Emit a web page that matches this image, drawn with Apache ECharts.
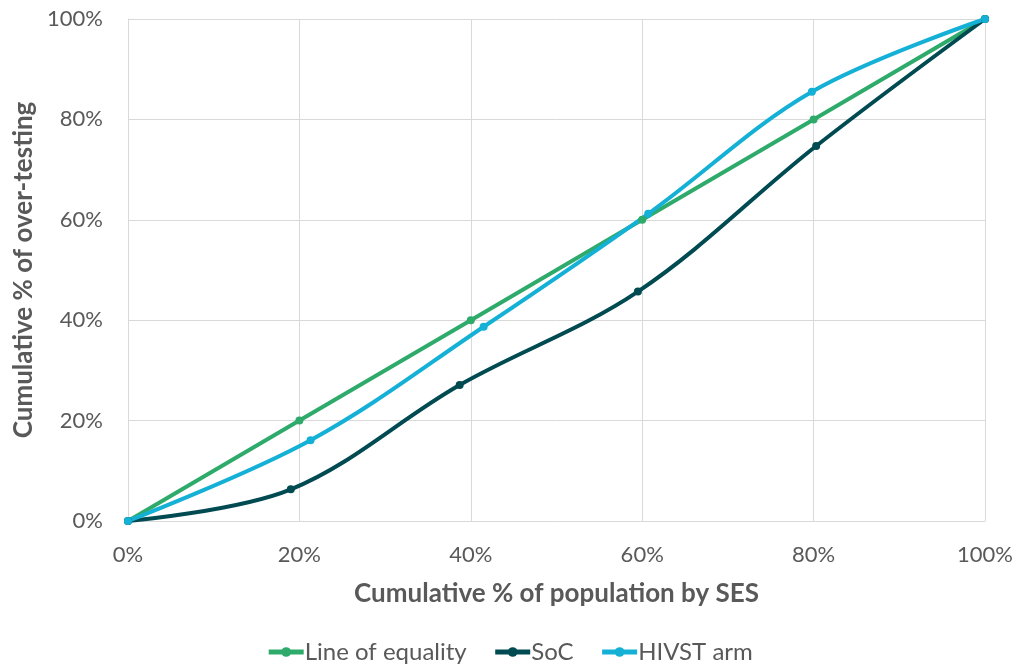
<!DOCTYPE html>
<html>
<head>
<meta charset="utf-8">
<script src="https://cdn.jsdelivr.net/npm/echarts@6/dist/echarts.min.js"></script>
<style>
  html, body { margin: 0; padding: 0; background: #fff; }
  #chart { width: 1019px; height: 666px; }
</style>
</head>
<body>
<div id="chart"></div>
<script>
// Cumulative shares (fractions) as [population by SES, over-testing]
const equalityPoints = [[0, 0], [0.2, 0.2], [0.4, 0.4], [0.6, 0.6], [0.8, 0.8], [1, 1]];
const socPoints = [[0, 0], [0.19, 0.063], [0.387, 0.271], [0.595, 0.457], [0.803, 0.747], [1, 1]];
const hivstPoints = [[0, 0], [0.213, 0.161], [0.415, 0.387], [0.607, 0.612], [0.798, 0.855], [1, 1]];
const seriesNames = ['Line of equality', 'SoC', 'HIVST arm'];
const seriesColors = ['#2eaa6b', '#004a52', '#14b0d6'];

const pct = v => Math.round(v * 100) + '%';
const fontFamily = 'Lato, "Open Sans", sans-serif';

const chart = echarts.init(document.getElementById('chart'), null, { renderer: 'canvas' });

const makeSeries = (name, data, color, smooth) => ({
  name, type: 'line', data, smooth,
  symbol: 'circle', symbolSize: 8,
  lineStyle: { width: 4, color },
  itemStyle: { color },
  emphasis: { disabled: true }
});

chart.setOption({
  animation: false,
  grid: { left: 128, right: 34, top: 19, bottom: 145 },
  legend: {
    top: 635, left: 'center',
    itemWidth: 35, itemHeight: 12, itemGap: 26,
    lineStyle: { width: 5 },
    textStyle: { fontFamily, fontSize: 24, color: '#595959', padding: [0, 0, 0, -4] },
    data: seriesNames
  },
  xAxis: {
    type: 'value', min: 0, max: 1, interval: 0.2,
    name: 'Cumulative % of population by SES',
    nameLocation: 'middle', nameGap: 60,
    nameTextStyle: { fontFamily, fontSize: 26, fontWeight: 'bold', color: '#595959' },
    axisLine: { show: true, lineStyle: { color: '#d9d9d9', width: 1 } },
    axisTick: { show: false },
    axisLabel: { formatter: pct, fontFamily, fontSize: 22, color: '#595959', margin: 23 },
    splitLine: { show: true, lineStyle: { color: '#d9d9d9', width: 1 } }
  },
  yAxis: {
    type: 'value', min: 0, max: 1, interval: 0.2,
    name: 'Cumulative % of over-testing',
    nameLocation: 'middle', nameGap: 89, nameRotate: 90,
    nameTextStyle: { fontFamily, fontSize: 26, fontWeight: 'bold', color: '#595959' },
    axisLine: { show: true, lineStyle: { color: '#d9d9d9', width: 1 } },
    axisTick: { show: false },
    axisLabel: { formatter: pct, fontFamily, fontSize: 22, color: '#595959', margin: 25 },
    splitLine: { show: true, lineStyle: { color: '#d9d9d9', width: 1 } }
  },
  series: [
    makeSeries(seriesNames[0], equalityPoints, seriesColors[0], false),
    makeSeries(seriesNames[1], socPoints, seriesColors[1], 0.35),
    makeSeries(seriesNames[2], hivstPoints, seriesColors[2], 0.35)
  ]
});
</script>
</body>
</html>
